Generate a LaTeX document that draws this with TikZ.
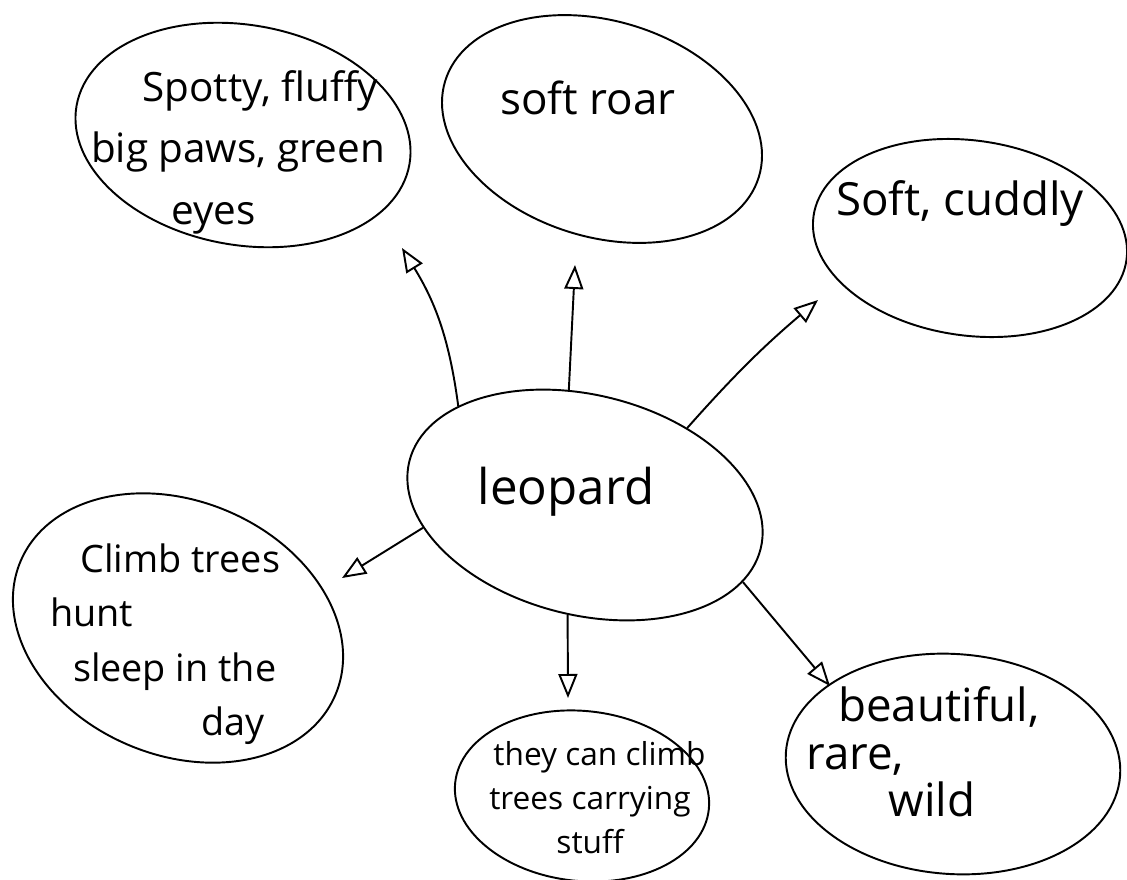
\documentclass[tikz,border=0pt]{standalone}
\usepackage{fontspec}
\setmainfont{Open Sans}
\usetikzlibrary{arrows.meta,shapes.geometric}

\begin{document}
\begin{tikzpicture}[x=0.2mm, y=-0.2mm, >={Triangle[open,length=4.8mm,width=3.8mm]}]
  \tikzset{bubble/.style={draw, ellipse, line width=1.1pt, inner sep=0pt}}
  \tikzstyle{note} = [align=center, inner sep=0pt, font=\fontsize{23}{31}\selectfont]
  \tikzstyle{link} = [->, line width=1.1pt]

  \useasboundingbox (0,0) rectangle (1127,880);

  % bubbles
  \node[bubble, minimum width=72.4mm, minimum height=44mm, rotate=-14]   (leo)    at (585,505) {};
  \node[bubble, minimum width=67.6mm, minimum height=44mm, rotate=-10]   (spots)  at (243,135) {};
  \node[bubble, minimum width=65.6mm, minimum height=43.2mm, rotate=-17] (roar)   at (602,129) {};
  \node[bubble, minimum width=63.2mm, minimum height=39mm, rotate=-8]    (cuddly) at (970,238) {};
  \node[bubble, minimum width=68.4mm, minimum height=50.8mm, rotate=-23] (climb)  at (178,628) {};
  \node[bubble, minimum width=51mm, minimum height=34mm, rotate=-6]      (carry)  at (582,796) {};
  \node[bubble, minimum width=67mm, minimum height=44mm, rotate=-4]      (pretty) at (953,764) {};

  % texts
  \node[note, font=\fontsize{28}{34}\selectfont] (leotext) at (566,492) {leopard};
  \node[note, font=\fontsize{23}{35}\selectfont] (spotstext) at (238,152)
    {\hspace{1.1em}Spotty, fluffy\\big paws, green\\eyes\kern1.2em};
  \node[note, font=\fontsize{25}{31}\selectfont] (roartext) at (588,98) {soft roar};
  \node[note, font=\fontsize{26}{31}\selectfont] (cuddlytext) at (960,204) {Soft, cuddly};
  \node[note, align=left, anchor=west, font=\fontsize{21.5}{31}\selectfont] (climbtext) at (50,644)
    {\hspace{0.8em}Climb trees\\hunt\\\hspace{0.6em}sleep in the\\\hspace{4em}day};
  \node[note, font=\fontsize{18}{25}\selectfont] (carrytext) at (590,798)
    {\hspace{0.6em}they can climb\\trees carrying\\stuff};
  \node[note, align=left, anchor=west, font=\fontsize{26}{27}\selectfont] (prettytext) at (806,752)
    {\hspace{0.7em}beautiful,\\rare,\\\hspace{1.8em}wild};

  % arrow tips
  \coordinate (spotstip)  at (402,248);
  \coordinate (roartip)   at (575,265);
  \coordinate (cuddlytip) at (818,300);
  \coordinate (climbtip)  at (342,578);
  \coordinate (carrytip)  at (568,698);
  \coordinate (prettytip) at (830,686);

  \draw[link] (leo.156) to[bend right=12] (spotstip);
  \draw[link] (leo.112) -- (roartip);
  \draw[link] (leo.51)  to[bend left=4] (cuddlytip);
  \draw[link] (leo.202) -- (climbtip);
  \draw[link] (leo.275) -- (carrytip);
  \draw[link] (leo.348) -- (prettytip);
\end{tikzpicture}
\end{document}
